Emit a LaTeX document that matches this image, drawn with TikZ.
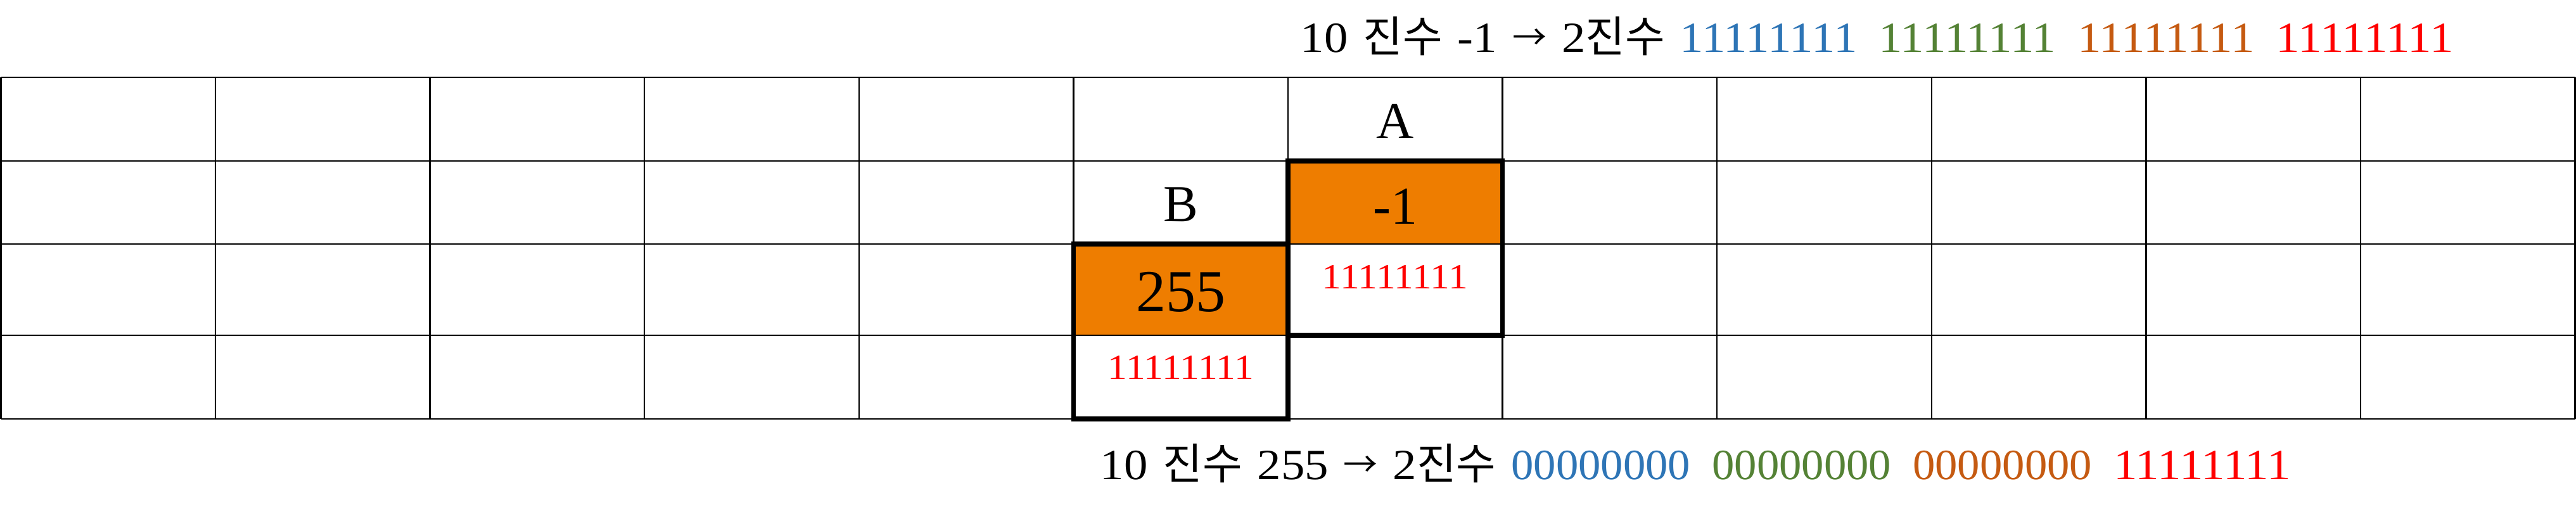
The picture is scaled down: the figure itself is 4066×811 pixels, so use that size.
\documentclass[tikz,border=0pt]{standalone}
\usepackage{fontspec}
\setmainfont{Liberation Serif}
\newfontfamily\wideserif[FakeStretch=1.1]{Liberation Serif}
\newfontfamily\zeroserif[FakeStretch=1.04]{Liberation Serif}
\newfontfamily\kr{Noto Sans CJK KR}
\usepackage{tikz}
\definecolor{cellorange}{RGB}{238,125,0}
\definecolor{bitblue}{RGB}{46,117,182}
\definecolor{bitgreen}{RGB}{84,130,53}
\definecolor{bitbrown}{RGB}{197,90,17}
\definecolor{bitred}{RGB}{255,0,0}
\newcommand{\convarrow}{\raisebox{1pt}{\kr\fontsize{13.5}{15}\selectfont →}}
\newcommand{\grpgap}{\hspace{8.5pt}}
\tikzset{
  gridline/.style={line width=0.6pt},
  varbox/.style={line width=1.9pt},
  cellname/.style={inner sep=0pt,font=\fontsize{20.5}{24}\selectfont},
  cellval/.style={inner sep=0pt,font=\fontsize{21}{25}\selectfont},
  cellbig/.style={inner sep=0pt,font=\fontsize{23.5}{28}\selectfont},
  cellbits/.style={inner sep=0pt,text=bitred,font=\fontsize{14}{17}\wideserif},
  convline/.style={inner sep=0pt,anchor=base west,font={\fontsize{17}{20}\wideserif\spaceskip=6pt}},
}

\begin{document}
\begin{tikzpicture}[x=0.25pt,y=-0.25pt,line join=miter]
		\useasboundingbox (0,0) rectangle (4066,811);
		  \fill[cellorange] (2033,254) rectangle (2371.6,385);
		  \fill[cellorange] (1694.4,385) rectangle (2033,529);
		  \foreach \i in {0,...,12}
		    \draw[gridline] ({1.5+\i*338.58},122) -- ({1.5+\i*338.58},661);
		  \foreach \y in {122,254,385,529,661}
		    \draw[gridline] (1.5,\y) -- (4064.5,\y);
		  \draw[varbox] (2033,254) rectangle (2371.6,529);
		  \draw[varbox] (1694.4,385) rectangle (2033,661);
		  \node[cellname] (nameA) at (2202,191) {A};
		  \node[cellname] (nameB) at (1864,323) {B};
		  \node[cellval] (valA) at (2202,326) {-1};
		  \node[cellbig] (valB) at (1864,461) {255};
		  \node[cellbits] (bitsA) at (2202,437) {11111111};
		  \node[cellbits] (bitsB) at (1864,580) {11111111};
		  \node[convline] (convA) at (2052,83) {10 {\kr 진수} -1 \convarrow{} 2{\kr 진수} \textcolor{bitblue}{11111111}\grpgap\textcolor{bitgreen}{11111111}\grpgap\textcolor{bitbrown}{11111111}\grpgap\textcolor{bitred}{11111111}};
		  \node[convline] (convB) at (1736,757) {10 {\kr 진수} 255 \convarrow{} 2{\kr 진수} \textcolor{bitblue}{\zeroserif 00000000}\grpgap\textcolor{bitgreen}{\zeroserif 00000000}\grpgap\textcolor{bitbrown}{\zeroserif 00000000}\grpgap\textcolor{bitred}{11111111}};
		
	\end{tikzpicture}
\end{document}
